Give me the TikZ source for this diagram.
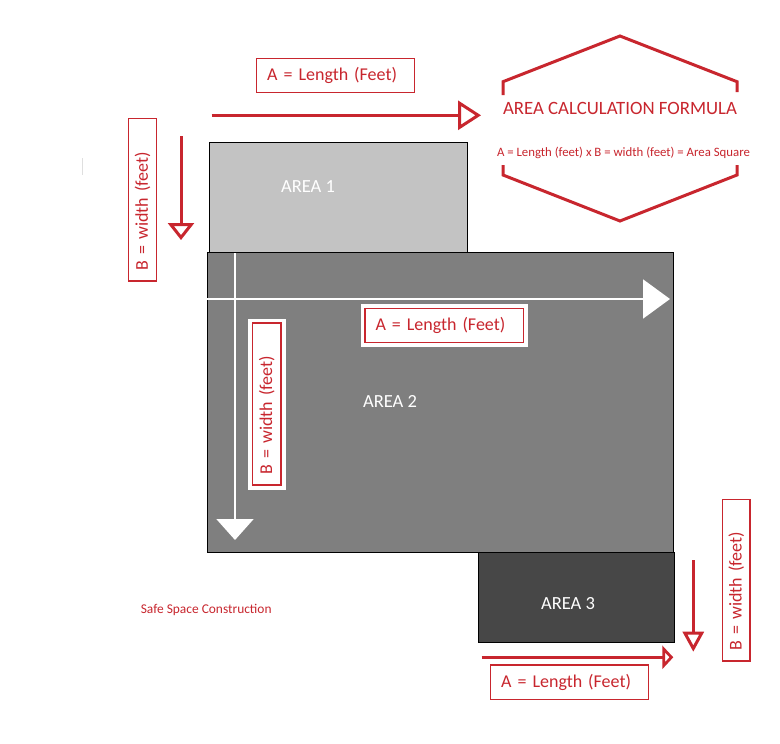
\documentclass[tikz,border=0pt]{standalone}
\usepackage{fontspec}
\setmainfont{Carlito}
\usetikzlibrary{arrows.meta}
\definecolor{rd}{RGB}{200,38,46}
\definecolor{ga}{RGB}{195,195,195}
\definecolor{gb}{RGB}{127,127,127}
\definecolor{gc}{RGB}{71,71,71}
\begin{document}
\begin{tikzpicture}[x=1pt,y=-1pt,
  bigfont/.style={font=\fontsize{18.5}{22}\selectfont},
  boxfont/.style={font=\fontsize{18}{21}\selectfont},
  areabox/.style={draw=black, line width=1.2pt, inner sep=0pt, anchor=north west},
  areatxt/.style={bigfont, text=white, inner sep=0pt},
  redbox/.style={draw=rd, line width=1.3pt, text=rd, boxfont, inner xsep=10.5pt, inner ysep=0pt, align=left},
  whiteedge/.style={fill=white, preaction={draw=white, line width=9pt}},
  redarrow/.style 2 args={draw=rd, line width=3pt, -{Triangle[fill=white, length=#1pt, width=#2pt]}},
  whitearrow/.style 2 args={draw=white, line width=2pt, -{Triangle[fill=white, length=#1pt, width=#2pt]}}
]
\useasboundingbox (0,0) rectangle (780,744);
\fill[white] (0,0) rectangle (780,744);

% faint mark
\draw[gray!25, line width=1pt] (82,158) -- (82,175);

% areas
\node[areabox, fill=ga, minimum width=257.7pt, minimum height=110pt] (area1) at (209,142) {};
\node[areabox, fill=gb, minimum width=466.3pt, minimum height=300pt] (area2) at (206.7,252) {};
\node[areabox, fill=gc, minimum width=196pt, minimum height=90pt] (area3) at (478,552) {};
\node[areatxt] (t1) at (308,187) {AREA 1};
\node[areatxt] (t2) at (390,401) {AREA 2};
\node[areatxt] (t3) at (568,604) {AREA 3};

% white arrows inside area 2
\coordinate (wh1) at (207,299);
\coordinate (wh2) at (670,299);
\coordinate (wv1) at (235,253);
\coordinate (wv2) at (235,540);
\draw[whitearrow={27}{39}] (wh1) -- (wh2);
\draw[whitearrow={21}{37}] (wv1) -- (wv2);

% label boxes
\node[redbox, text width=137pt, minimum height=34.4pt] (topA) at (335.7,75.5) {A = Length (Feet)};
\node[redbox, whiteedge, text width=137.7pt, minimum height=33.6pt] (inA) at (444.35,325.5) {A = Length (Feet)};
\node[redbox, text width=136.6pt, minimum height=34.3pt] (botA) at (569.5,682.2) {A = Length (Feet)};
\node[redbox, rotate=90, text width=141.7pt, minimum height=28.4pt] (leftB) at (142.5,199.7) {B = width (feet)};
\node[redbox, whiteedge, rotate=90, text width=141pt, minimum height=28.3pt] (inB) at (266.9,404) {B = width (feet)};
\node[redbox, rotate=90, text width=140.7pt, minimum height=27.7pt] (rightB) at (736.2,580.2) {B = width (feet)};

% red arrows
\coordinate (ta1) at (211.7,115.3);
\coordinate (ta2) at (481,115.3);
\coordinate (la1) at (181,136);
\coordinate (la2) at (181,240);
\coordinate (ba1) at (481.7,657.3);
\coordinate (ba2) at (673.3,657.3);
\coordinate (ra1) at (693.3,560);
\coordinate (ra2) at (693.3,651.7);
\draw[redarrow={23}{29}] (ta1) -- (ta2);
\draw[redarrow={17}{26}] (la1) -- (la2);
\draw[redarrow={11}{23}] (ba1) -- (ba2);
\draw[redarrow={20}{21}] (ra1) -- (ra2);

% formula hexagon
\draw[rd, line width=3pt] (503,95) -- (503,81.7) -- (620,36) -- (737,81.7) -- (737,92);
\draw[rd, line width=3pt] (503,165) -- (503,175) -- (620,221) -- (737,175) -- (737,165);
\node[text=rd, font=\fontsize{18.8}{22}\selectfont, inner sep=0pt] (hexT) at (620,108) {AREA CALCULATION FORMULA};
\node[text=rd, font=\fontsize{12.8}{15}\selectfont, inner sep=0pt] (hexF) at (623.5,153) {A = Length (feet) x B = width (feet) = Area Square};

% footer
\node[text=rd, font=\fontsize{13.4}{16}\selectfont, inner sep=0pt] (safe) at (206.2,610) {Safe Space Construction};
\end{tikzpicture}
\end{document}
